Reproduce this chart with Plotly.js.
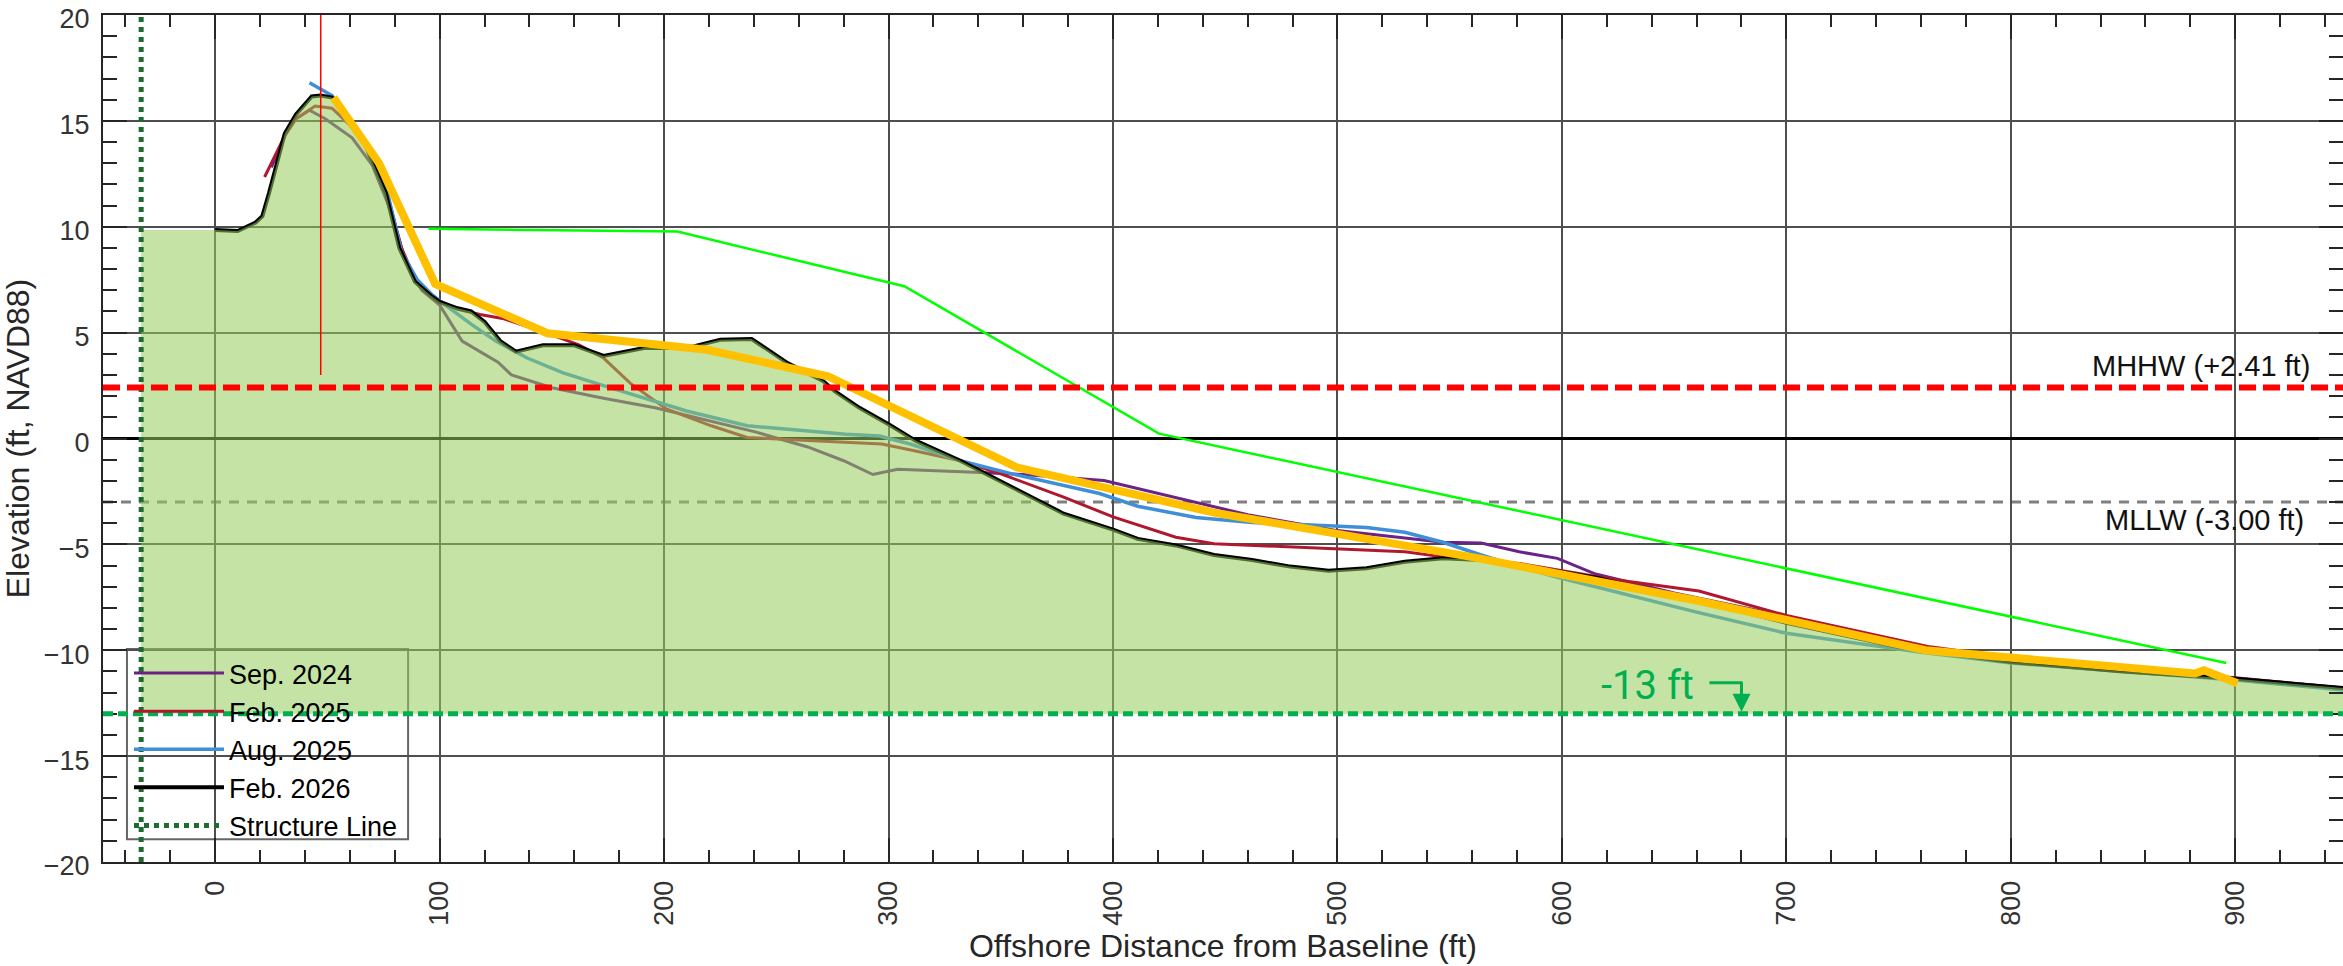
<!DOCTYPE html>
<html>
<head>
<meta charset="utf-8">
<script src="https://cdn.plot.ly/plotly-3.0.1.min.js"></script>
<style>
html,body{margin:0;padding:0;background:#ffffff;}
#chart{width:2343px;height:966px;}
</style>
</head>
<body>
<div id="chart"></div>
<script>
// ---- Survey profiles (offshore distance ft, elevation ft NAVD88) ----
const sep2024X = [25,31,36,42,49,61,70,78,85,92,100,110,126,132,150,173,196,219,241,264,280,293,304,341,360,396,428,460,500,547,564,581,598,615,650,700,765,800,900,950];
const sep2024Y = [12.8,14.3,15.1,15.5,15.1,14.2,12.9,10.8,8.3,7.0,6.3,4.6,3.6,3.0,2.4,1.9,1.45,0.85,0.3,-0.4,-1.05,-1.7,-1.45,-1.6,-1.7,-1.98,-2.8,-3.6,-4.35,-4.9,-4.94,-5.35,-5.66,-6.4,-7.3,-8.4,-9.9,-10.45,-11.3,-11.8];

const feb2025X = [22,26,31,36,44.5,52,60,67,72,77,83,90,100,108,118,128,137,148,162,173,185,201,221,237,264,281,297,311,325,332,350,378,400,428,445,462,496,530,547,581,624,661,700,764,800,900,950];
const feb2025Y = [12.35,13.2,14.3,15.1,15.7,15.6,14.8,13.8,12.8,11.4,9.0,7.3,6.5,6.1,5.86,5.67,5.36,4.97,4.42,3.8,2.6,1.4,0.6,0.05,-0.1,-0.2,-0.26,-0.57,-0.9,-1.05,-1.67,-2.77,-3.7,-4.66,-4.97,-5.05,-5.2,-5.35,-5.59,-5.9,-6.67,-7.2,-8.36,-9.84,-10.35,-11.3,-11.8];

const aug2025X = [42,47,52,59,67,72,77,83,90,96.5,100,114,125,139,155,173,196,210,237,264,281,296,310,332,355,394,411,437,462,496,513,530,547,564,581,598,615,632,660,700,760,800,900,950];
const aug2025Y = [16.8,16.5,16.2,15.1,13.9,12.9,11.5,8.8,7.5,6.8,6.5,5.4,4.6,3.8,3.1,2.5,1.75,1.3,0.6,0.36,0.2,0.12,-0.27,-1.05,-1.67,-2.6,-3.2,-3.73,-3.97,-4.12,-4.2,-4.43,-4.9,-5.5,-6.05,-6.55,-7.0,-7.45,-8.2,-9.2,-10.1,-10.6,-11.4,-11.9];

const feb2026X = [0,10,18,21,24,27,31,36,43,47,52,59,67,71,76,82,89,96,100,108,114,120,127,134,146,160,173,191,210,225,239,255,271,276,287,300,312,332,355,378,400,411,428,445,462,479,496,513,530,547,564,581,598,616,633,661,700,750,800,850,900,950];
const feb2026Y = [9.85,9.8,10.2,10.5,11.6,12.8,14.4,15.3,16.15,16.2,16.1,15.0,13.8,12.85,11.6,9.0,7.4,6.75,6.45,6.15,6.0,5.5,4.6,4.1,4.4,4.4,3.9,4.27,4.27,4.66,4.7,3.56,2.7,2.23,1.45,0.67,-0.1,-1.05,-2.3,-3.55,-4.3,-4.74,-5.05,-5.5,-5.74,-6.05,-6.25,-6.13,-5.82,-5.66,-5.74,-5.97,-6.28,-6.59,-7.05,-7.67,-8.7,-9.85,-10.55,-11.0,-11.35,-11.8];

// ---- Design / template profiles (no legend entry) ----
const designX = [52.7,73,98,148,219,273,357,445,560,660,762,882,886,901];
const designY = [16.1,13.0,7.3,4.97,4.19,2.94,-1.36,-3.5,-5.6,-7.65,-10.0,-11.1,-10.95,-11.56];

const envelopeX = [95,206,307,420.5,896];
const envelopeY = [9.9,9.77,7.19,0.23,-10.6];

const markerLineX = [47,47];
const markerLineY = [3.0,20];

// ---- Reference levels ----
const structureX = -33;
const MHHW = 2.41;
const MLLW = -3.00;
const DEPTH = -13;
const depthArrowX = 680;

const xRange = [-50, 948];
const yRange = [-20, 20];

// fill polygon: from structure line along Feb. 2026 profile, down to -13 ft
const fillX = [structureX].concat(feb2026X, [feb2026X[feb2026X.length-1], structureX]);
const fillY = [feb2026Y[0]].concat(feb2026Y, [DEPTH, DEPTH]);

const FONT = 'Liberation Sans, Arial, Helvetica, sans-serif';

const traces = [
  {x: sep2024X, y: sep2024Y, type:'scatter', mode:'lines', name:'Sep. 2024',
   line:{color:'#6b2485', width:3}},
  {x: feb2025X, y: feb2025Y, type:'scatter', mode:'lines', name:'Feb. 2025',
   line:{color:'#b01830', width:3}},
  {x: aug2025X, y: aug2025Y, type:'scatter', mode:'lines', name:'Aug. 2025',
   line:{color:'#3f8fd8', width:3.5}},
  {x: feb2026X, y: feb2026Y, type:'scatter', mode:'lines', name:'Feb. 2026',
   line:{color:'#000000', width:4}},
  {x: fillX, y: fillY, type:'scatter', mode:'none', fill:'toself',
   fillcolor:'rgba(150,204,91,0.55)', showlegend:false, hoverinfo:'skip'},
  {x: designX, y: designY, type:'scatter', mode:'lines', showlegend:false,
   line:{color:'#FFC000', width:8}},
  {x: envelopeX, y: envelopeY, type:'scatter', mode:'lines', showlegend:false,
   line:{color:'#00FF00', width:2.5}},
  {x: markerLineX, y: markerLineY, type:'scatter', mode:'lines', showlegend:false,
   line:{color:'#FF0000', width:1.5}},
  {x: [structureX, structureX], y: yRange, type:'scatter', mode:'lines', name:'Structure Line',
   line:{color:'#1e6b30', width:5, dash:'dot'}}
];

const axisCommon = {
  ticks:'inside', ticklen:24, tickwidth:2, tickcolor:'#262626',
  showline:true, linecolor:'#262626', linewidth:2, mirror:'allticks',
  showgrid:true, gridcolor:'#4e4e4e', gridwidth:2,
  tickfont:{family:FONT, size:27, color:'#333333'},
  ticklabeloverflow:'allow',
  automargin:false
};

const layout = {
  width:2343, height:966, autosize:false,
  margin:{l:103, r:0, t:15, b:104},
  paper_bgcolor:'#ffffff', plot_bgcolor:'#ffffff',
  font:{family:FONT, color:'#262626'},
  showlegend:true,
  xaxis: Object.assign({}, axisCommon, {
    range:xRange, tick0:0, dtick:100, tickangle:-90, zeroline:false,
    ticklabelstandoff:6,
    minor:{dtick:20, ticks:'inside', ticklen:12, tickwidth:2, tickcolor:'#262626', showgrid:false},
    title:{text:'Offshore Distance from Baseline (ft)', font:{family:FONT, size:32, color:'#262626'}, standoff:10}
  }),
  yaxis: Object.assign({}, axisCommon, {
    range:yRange, tick0:0, dtick:5, zeroline:true, zerolinecolor:'#000000', zerolinewidth:3,
    ticklabelstandoff:6, ticklabelshift:4,
    minor:{dtick:1, ticks:'inside', ticklen:14, tickwidth:2, tickcolor:'#262626', showgrid:false},
    title:{text:'Elevation (ft, NAVD88)', font:{family:FONT, size:32, color:'#262626'}, standoff:10}
  }),
  legend:{
    x:0.0116, y:0.2515, xanchor:'left', yanchor:'top',
    bgcolor:'rgba(0,0,0,0)', borderwidth:0,
    font:{family:FONT, size:27, color:'#000000'},
    itemwidth:90, tracegroupgap:0
  },
  shapes:[
    {type:'rect', xref:'paper', yref:'paper', x0:0.0107, x1:0.1362, y0:0.0269, y1:0.2515,
     fillcolor:'#ffffff', line:{color:'#666666', width:2}, layer:'between'},
    {type:'line', xref:'paper', yref:'y', x0:0, x1:1, y0:MLLW, y1:MLLW,
     line:{color:'#808080', width:3, dash:'10px,8px'}, layer:'between'},
    {type:'line', xref:'paper', yref:'y', x0:0, x1:1, y0:MHHW, y1:MHHW,
     line:{color:'#FF0000', width:6, dash:'17px,7px'}, layer:'above'},
    {type:'line', xref:'paper', yref:'y', x0:0, x1:1, y0:DEPTH, y1:DEPTH,
     line:{color:'#00B050', width:5, dash:'10px,5px'}, layer:'above'},
    {type:'line', xref:'x', yref:'y', xsizemode:'pixel', ysizemode:'pixel',
     xanchor:depthArrowX, yanchor:DEPTH, x0:-32, x1:1, y0:31, y1:31,
     line:{color:'#00B050', width:3}, layer:'above'}
  ],
  annotations:[
    {xref:'paper', yref:'y', x:0.986, y:3.44, xanchor:'right', yanchor:'middle', showarrow:false,
     text:'MHHW (+2.41 ft)', font:{family:FONT, size:29, color:'#111111'}},
    {xref:'paper', yref:'y', x:0.9835, y:-3.85, xanchor:'right', yanchor:'middle', showarrow:false,
     text:'MLLW (-3.00 ft)', font:{family:FONT, size:29, color:'#111111'}},
    {xref:'x', yref:'y', x:638, y:-11.65, xanchor:'center', yanchor:'middle', showarrow:false,
     text:'-13 ft', font:{family:'Roboto, sans-serif', size:40, color:'#00B050'}},
    {xref:'x', yref:'y', x:depthArrowX, y:DEPTH + 0.1, text:'', showarrow:true,
     axref:'pixel', ayref:'pixel', ax:0, ay:-31, arrowhead:2, arrowsize:1.2, arrowwidth:3,
     arrowcolor:'#00B050', standoff:0}
  ]
};

Plotly.newPlot('chart', traces, layout, {staticPlot:true, displayModeBar:false});
</script>
</body>
</html>
